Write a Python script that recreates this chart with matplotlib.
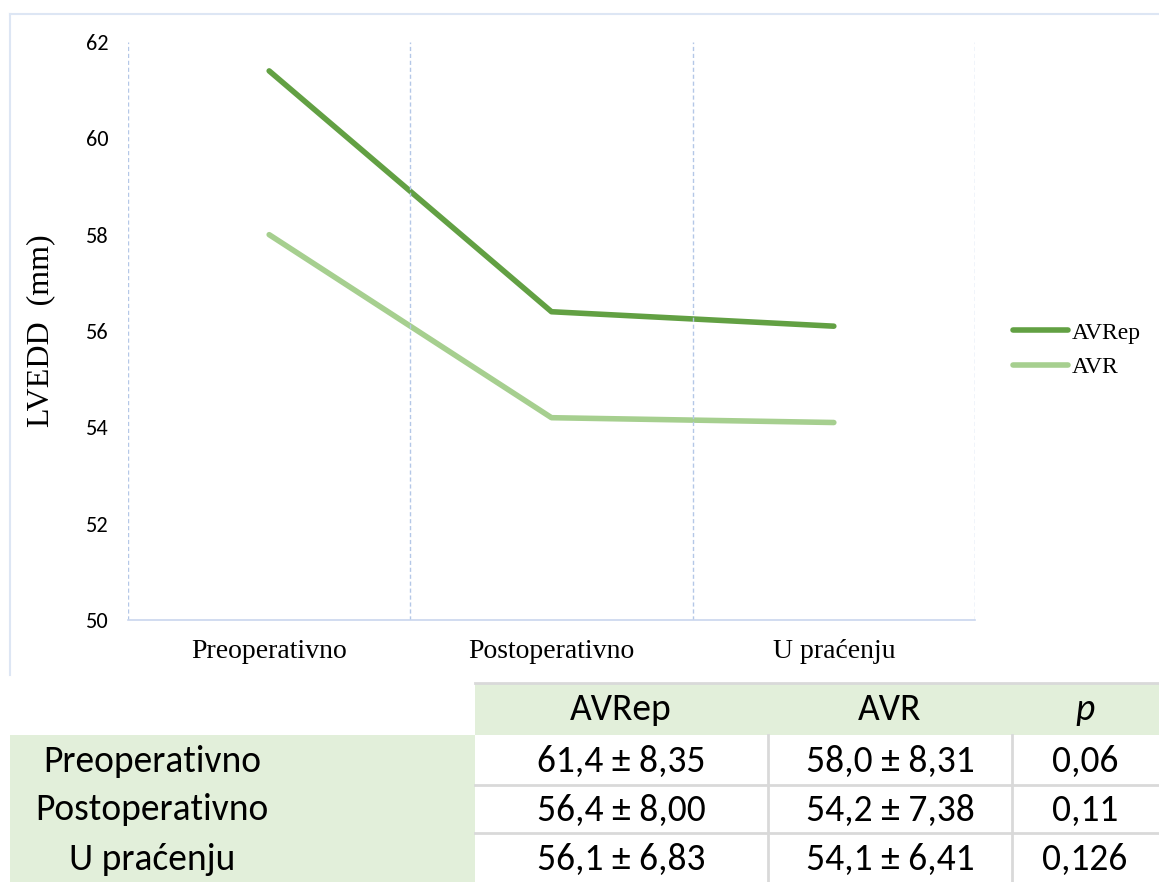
import matplotlib
matplotlib.use('Agg')
import matplotlib.pyplot as plt
from matplotlib import font_manager
from matplotlib.patches import Rectangle
from matplotlib.lines import Line2D

categories = ["Preoperativno", "Postoperativno", "U praćenju"]
avrep = [61.4, 56.4, 56.1]
avr = [58.0, 54.2, 54.1]
yticks = [50, 52, 54, 56, 58, 60, 62]

table_header = ["AVRep", "AVR", "p"]
table_rows = ["Preoperativno", "Postoperativno", "U praćenju"]
table_avrep = ["61,4 ± 8,35", "56,4 ± 8,00", "56,1 ± 6,83"]
table_avr = ["58,0 ± 8,31", "54,2 ± 7,38", "54,1 ± 6,41"]
table_p = ["0,06", "0,11", "0,126"]

available = {f.name for f in font_manager.fontManager.ttflist}
def pick(names):
	for n in names:
		if n in available:
			return n
	return "DejaVu Sans"

serif = pick(["Liberation Serif", "DejaVu Serif"])
sans = pick(["Carlito", "Lato", "Open Sans"])

W, H = 1159, 882
fig = plt.figure(figsize=(W / 100, H / 100), dpi=100)

def px(x0, y0, x1, y1):
	# pixel box (top-left origin) -> figure fraction rect
	return [x0 / W, 1 - y1 / H, (x1 - x0) / W, (y1 - y0) / H]

# background layer for frame and table
bg = fig.add_axes([0, 0, 1, 1])
bg.set_xlim(0, W)
bg.set_ylim(H, 0)
bg.axis('off')

frame_c = '#dde6f4'
bg.add_line(Line2D([10, W], [14, 14], color=frame_c, lw=1.5))
bg.add_line(Line2D([10, 10], [14, 675], color=frame_c, lw=1.5))

# chart
ax = fig.add_axes(px(128, 42, 975, 620))
x = [i + 0.5 for i in range(len(categories))]
ax.plot(x, avrep, color='#62a043', lw=4, solid_capstyle='round', label='AVRep')
ax.plot(x, avr, color='#a6cf8f', lw=4, solid_capstyle='round', label='AVR')
ax.set_xlim(0, 3)
ax.set_ylim(50, 62)
ax.set_yticks(yticks)
ax.set_yticklabels([str(v) for v in yticks], fontname=sans, fontsize=16)
ax.set_xticks(x)
ax.set_xticklabels(categories, fontname=serif, fontsize=20)
ax.tick_params(axis='y', length=0, pad=14)
ax.tick_params(axis='x', length=0, pad=14)
for xv in range(4):
	ax.axvline(xv, color='#b4c7e7', lw=1, ls=(0, (3, 2)))
for s in ['top', 'right', 'left']:
	ax.spines[s].set_visible(False)
ax.spines['bottom'].set_color('#c9d6ee')
ax.spines['bottom'].set_linewidth(1.2)
ax.set_ylabel("LVEDD  (mm)", fontname=serif, fontsize=23, labelpad=22)

leg = ax.legend(loc='center left', bbox_to_anchor=(1013 / W, 1 - 350 / H),
	bbox_transform=fig.transFigure, frameon=False, borderpad=0, borderaxespad=0,
	prop={'family': serif, 'size': 17}, handlelength=2.35, handletextpad=0.15,
	labelspacing=0.55)

# table
green = '#e2efda'
grid_c = '#d9d9d9'
bg.add_patch(Rectangle((475, 683), W - 475, 52, color=green, lw=0))
bg.add_patch(Rectangle((10, 735), 465, H - 735, color=green, lw=0))
bg.add_line(Line2D([475, W], [683, 683], color=grid_c, lw=2))
for yv in [785, 833]:
	bg.add_line(Line2D([475, W], [yv, yv], color=grid_c, lw=2))
for xv in [768, 1012]:
	bg.add_line(Line2D([xv, xv], [735, H], color=grid_c, lw=2))

col_x = [621, 890, 1085]
row_y = [761, 810, 859]
tfs = 27
for cx, t in zip(col_x, table_header):
	bg.text(cx, 710, t, ha='center', va='center', fontname=sans, fontsize=tfs,
		style='italic' if t == 'p' else 'normal')
for i, ry in enumerate(row_y):
	bg.text(152, ry, table_rows[i], ha='center', va='center', fontname=sans, fontsize=tfs)
	bg.text(col_x[0], ry, table_avrep[i], ha='center', va='center', fontname=sans, fontsize=tfs)
	bg.text(col_x[1], ry, table_avr[i], ha='center', va='center', fontname=sans, fontsize=tfs)
	bg.text(col_x[2], ry, table_p[i], ha='center', va='center', fontname=sans, fontsize=tfs)

fig.savefig("out.png", dpi=100)
